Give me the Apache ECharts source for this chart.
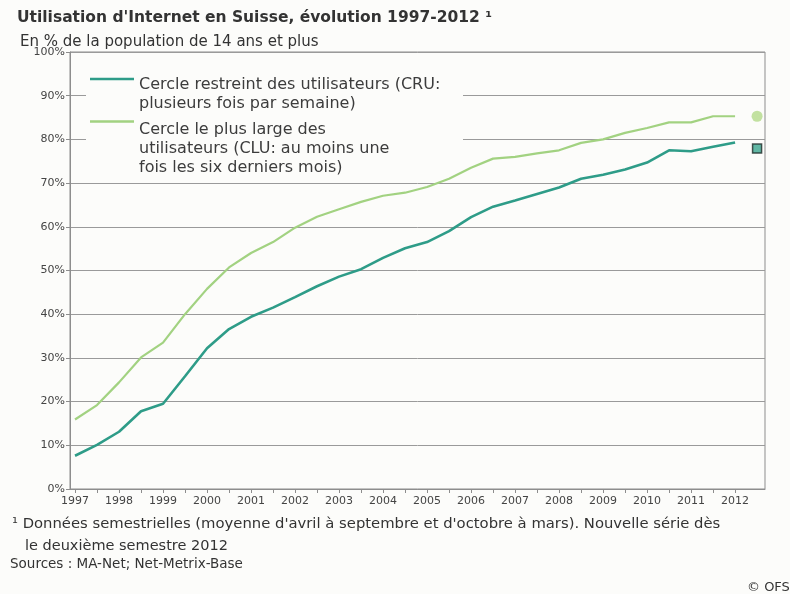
<!DOCTYPE html>
<html><head><meta charset="utf-8">
<script src="https://cdn.jsdelivr.net/npm/echarts@6/dist/echarts.min.js"></script>
<style>html,body{margin:0;padding:0;background:#fcfcfa;}#c{width:790px;height:594px;}</style>
</head><body><div id="c"></div>
<script>
// Semesters (1997 = first semester value ... 2012)
const periods = [1997,1997.5,1998,1998.5,1999,1999.5,2000,2000.5,2001,2001.5,2002,2002.5,2003,2003.5,2004,2004.5,2005,2005.5,2006,2006.5,2007,2007.5,2008,2008.5,2009,2009.5,2010,2010.5,2011,2011.5,2012];
// Cercle restreint des utilisateurs (CRU), in %
const cru = [7.6,10.1,13.1,17.8,19.5,25.8,32.2,36.6,39.4,41.5,43.9,46.4,48.6,50.3,52.9,55.1,56.5,59.0,62.2,64.6,66.0,67.5,69.0,71.0,71.9,73.1,74.7,77.5,77.3,78.3,79.3];
// Cercle le plus large des utilisateurs (CLU), in %
const clu = [15.9,19.2,24.4,30.1,33.5,40.0,45.8,50.7,54.0,56.5,59.8,62.3,64.0,65.7,67.1,67.8,69.1,71.0,73.5,75.6,76.0,76.8,77.5,79.2,80.0,81.5,82.6,83.9,83.9,85.3,85.3];
// New series, second semester 2012
const newPeriod = [2012.5];
const cruNew = [77.9];
const cluNew = [85.3];
// Axis labels
const yearLabels = [1997,1998,1999,2000,2001,2002,2003,2004,2005,2006,2007,2008,2009,2010,2011,2012];

const FONT = 'DejaVu Sans';
const BG = '#fcfcfa';
const DARK = '#2e9c88';
const LIGHT = '#a2d281';
const legendLines = {
  CRU: ['Cercle restreint des utilisateurs (CRU:', 'plusieurs fois par semaine)'],
  CLU: ['Cercle le plus large des', 'utilisateurs (CLU: au moins une', 'fois les six derniers mois)']
};
const legendRich = {
  b1: {fontSize: 1, lineHeight: 31},
  b2: {fontSize: 1, lineHeight: 54},
  t: {fontFamily: FONT, fontSize: 16, lineHeight: 19, color: '#3c3c3c'}
};

const chart = echarts.init(document.getElementById('c'));
const legendBase = {
  orient: 'vertical', left: 90, padding: 0, itemWidth: 44, itemHeight: 2.5,
  icon: 'rect', selectedMode: false
};
const noteStyle = {fontFamily: FONT, fontSize: 14.8, fontWeight: 'normal', color: '#333'};
chart.setOption({
  backgroundColor: BG,
  animation: false,
  title: [
    {text: "Utilisation d'Internet en Suisse, évolution 1997-2012 ¹", left: 12, top: 5,
     textStyle: {fontFamily: FONT, fontSize: 15.5, fontWeight: 'bold', color: '#333'}},
    {text: 'En % de la population de 14 ans et plus', left: 15, top: 30,
     textStyle: {fontFamily: FONT, fontSize: 15, fontWeight: 'normal', color: '#333'}},
    {text: "¹ Données semestrielles (moyenne d'avril à septembre et d'octobre à mars). Nouvelle série dès", left: 7, top: 512,
     textStyle: noteStyle},
    {text: 'le deuxième semestre 2012', left: 20, top: 534,
     textStyle: {fontFamily: FONT, fontSize: 14.5, fontWeight: 'normal', color: '#333'}},
    {text: 'Sources : MA-Net; Net-Metrix-Base', left: 5, top: 552,
     textStyle: {fontFamily: FONT, fontSize: 13.5, fontWeight: 'normal', color: '#333'}},
    {text: '© OFS', left: 742, top: 576,
     textStyle: {fontFamily: FONT, fontSize: 13, fontWeight: 'normal', color: '#333'}}
  ],
  legend: [
    Object.assign({}, legendBase, {data: ['CRU'], top: 59.5,
      formatter: n => '{b1| }\n' + legendLines[n].map(s => '{t|' + s + '}').join('\n'),
      textStyle: {rich: legendRich}}),
    Object.assign({}, legendBase, {data: ['CLU'], top: 92.5,
      formatter: n => '{b2| }\n' + legendLines[n].map(s => '{t|' + s + '}').join('\n'),
      textStyle: {rich: legendRich}})
  ],
  graphic: [
    {type: 'rect', left: 86, top: 57, z: 1, silent: true,
     shape: {width: 377, height: 119}, style: {fill: BG}}
  ],
  grid: {left: 70, right: 25, top: 52, bottom: 105, show: true, borderColor: '#8d8d8d', borderWidth: 1},
  xAxis: {
    type: 'value', min: 1996.886, max: 2012.68,
    axisLine: {lineStyle: {color: '#8d8d8d'}},
    axisTick: {show: true, length: 4, customValues: periods, lineStyle: {color: '#8d8d8d'}},
    axisLabel: {customValues: yearLabels, formatter: v => String(Math.round(v)),
      fontFamily: FONT, fontSize: 11, color: '#444', margin: 7},
    splitLine: {show: false}
  },
  yAxis: {
    type: 'value', min: 0, max: 100, interval: 10,
    axisLine: {show: true, lineStyle: {color: '#8d8d8d'}},
    axisTick: {show: true, length: 4, lineStyle: {color: '#8d8d8d'}},
    axisLabel: {formatter: '{value}%', fontFamily: FONT, fontSize: 11, color: '#444', margin: 5},
    splitLine: {lineStyle: {color: '#9a9a9a', width: 1}}
  },
  series: [
    {name: 'CRU', type: 'line', symbol: 'none', z: 3,
     data: periods.map((t, i) => [t, cru[i]]),
     lineStyle: {color: DARK, width: 2.6}, itemStyle: {color: DARK}},
    {name: 'CLU', type: 'line', symbol: 'none', z: 3,
     data: periods.map((t, i) => [t, clu[i]]),
     lineStyle: {color: LIGHT, width: 2.2}, itemStyle: {color: LIGHT}},
    {name: 'CRU (nouvelle série)', type: 'scatter', symbol: 'rect', symbolSize: 9, z: 3,
     data: newPeriod.map((t, i) => [t, cruNew[i]]),
     itemStyle: {color: '#3aa58f', borderColor: '#1e2a28', borderWidth: 1.5}},
    {name: 'CLU (nouvelle série)', type: 'scatter', symbol: 'circle', symbolSize: 11, z: 3,
     data: newPeriod.map((t, i) => [t, cluNew[i]]),
     itemStyle: {color: '#b3d98a'}}
  ]
});
</script>
</body></html>
